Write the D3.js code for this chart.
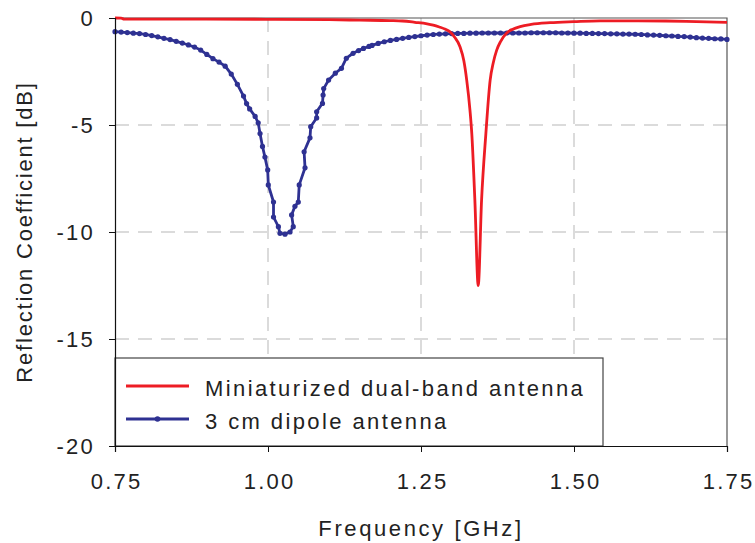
<!DOCTYPE html>
<html>
<head>
<meta charset="utf-8">
<script src="https://cdn.jsdelivr.net/npm/d3@7"></script>
<style>
  body { margin: 0; background: #fff; }
  svg text { font-family: "Liberation Sans", Arial, sans-serif; fill: #222; }
</style>
</head>
<body>
<svg id="chart"></svg>
<script>
// tick values
const xTicks = [0.75, 1.00, 1.25, 1.50, 1.75];
const yTicks = [0, -5, -10, -15, -20];

// series names
const seriesNames = ["Miniaturized dual-band antenna", "3 cm dipole antenna"];

// miniaturized dual-band antenna (red)
const redFreq = [0.75, 0.76, 0.765, 0.80, 0.90, 1.00, 1.10, 1.15, 1.20, 1.22, 1.24, 1.26, 1.27, 1.28, 1.29,
  1.297, 1.305, 1.3137, 1.32, 1.3247, 1.33, 1.333, 1.338, 1.3435, 1.349, 1.356, 1.363, 1.368, 1.3737,
  1.38, 1.39, 1.40, 1.412, 1.43, 1.461, 1.50, 1.5425, 1.60, 1.65, 1.70, 1.75];
const redDb = [0.0, -0.01, -0.05, -0.05, -0.05, -0.06, -0.08, -0.10, -0.12, -0.14, -0.20, -0.27, -0.33, -0.42, -0.53,
  -0.64, -0.90, -1.34, -2.0, -2.9, -4.3, -5.4, -8.5, -12.5, -8.5, -5.4, -2.9, -2.1, -1.5,
  -1.1, -0.70, -0.52, -0.40, -0.30, -0.22, -0.17, -0.13, -0.13, -0.14, -0.17, -0.20];

// 3 cm dipole antenna (blue)
const blueFreq = [0.75, 0.76, 0.77, 0.78, 0.79, 0.80, 0.81, 0.82, 0.83, 0.84, 0.85, 0.86, 0.87, 0.88, 0.89,
  0.90, 0.91, 0.92, 0.93, 0.94, 0.95, 0.96, 0.965, 0.97, 0.979, 0.984, 0.987, 0.991, 0.995, 0.9995,
  1.0005, 1.009, 1.009, 1.017, 1.0196, 1.0278, 1.036, 1.0413, 1.0386, 1.044, 1.0495, 1.051, 1.0605, 1.059,
  1.0686, 1.0698, 1.0795, 1.0795, 1.089, 1.090, 1.091, 1.099, 1.11, 1.12, 1.128, 1.139, 1.148, 1.156,
  1.165, 1.17, 1.18, 1.19, 1.20, 1.21, 1.22, 1.23, 1.24, 1.25, 1.26, 1.27, 1.28, 1.29, 1.30,
  1.31, 1.32, 1.33, 1.34, 1.35, 1.36, 1.37, 1.38, 1.39, 1.40, 1.41, 1.42, 1.43, 1.44, 1.45,
  1.46, 1.47, 1.48, 1.49, 1.50, 1.51, 1.52, 1.53, 1.54, 1.55, 1.56, 1.57, 1.58, 1.59, 1.60,
  1.61, 1.62, 1.63, 1.64, 1.65, 1.66, 1.67, 1.68, 1.69, 1.70, 1.71, 1.72, 1.73, 1.74, 1.75];
const blueDb = [-0.64, -0.66, -0.68, -0.71, -0.73, -0.77, -0.82, -0.88, -0.95, -1.01, -1.09, -1.17, -1.26, -1.36, -1.50,
  -1.70, -1.90, -2.06, -2.25, -2.62, -3.10, -3.65, -4.0, -4.25, -4.6, -4.9, -5.4, -6.0, -6.5, -7.1,
  -7.8, -8.6, -9.3, -9.75, -10.06, -10.1, -10.0, -9.75, -9.2, -8.8, -8.6, -7.8, -7.0, -6.25,
  -5.6, -5.08, -4.67, -4.38, -3.99, -3.6, -3.3, -2.9, -2.58, -2.35, -1.88, -1.65, -1.52, -1.42,
  -1.33, -1.28, -1.19, -1.11, -1.05, -1.00, -0.95, -0.91, -0.87, -0.83, -0.80, -0.77, -0.75, -0.74, -0.73,
  -0.72, -0.72, -0.71, -0.71, -0.70, -0.70, -0.70, -0.70, -0.70, -0.70, -0.70, -0.70, -0.69, -0.69, -0.69,
  -0.69, -0.69, -0.70, -0.70, -0.71, -0.71, -0.72, -0.72, -0.73, -0.73, -0.74, -0.74, -0.75, -0.75, -0.76,
  -0.77, -0.79, -0.80, -0.81, -0.83, -0.84, -0.86, -0.87, -0.89, -0.92, -0.94, -0.95, -0.97, -0.98, -1.00];

const redColor = "#ed1c24";
const blueColor = "#2e3192";
const fontSize = 22;
const spacing = 2.2;

const margin = { top: 18, right: 28, bottom: 97, left: 115 },
  width = 755 - margin.left - margin.right,
  height = 543 - margin.top - margin.bottom;

const svg = d3.select("#chart")
  .attr("width", 755)
  .attr("height", 543);

const g = svg.append("g")
  .attr("transform", `translate(${margin.left}, ${margin.top})`);

const x = d3.scaleLinear().domain([0.75, 1.75]).range([0, width]);
const y = d3.scaleLinear().domain([-20, 0]).range([height, 0]);

// grids
g.append("g")
  .selectAll("line")
  .data(xTicks.slice(1, -1))
  .join("line")
  .attr("x1", d => x(d)).attr("x2", d => x(d))
  .attr("y1", 0).attr("y2", height)
  .attr("stroke", "#cfcfcf")
  .attr("stroke-width", 1.5)
  .attr("stroke-dasharray", "14,9");

g.append("g")
  .selectAll("line")
  .data(yTicks.slice(1, -1))
  .join("line")
  .attr("x1", 0).attr("x2", width)
  .attr("y1", d => y(d)).attr("y2", d => y(d))
  .attr("stroke", "#cfcfcf")
  .attr("stroke-width", 1.5)
  .attr("stroke-dasharray", "14,9");

// frame top and right
g.append("path")
  .attr("d", `M0,0H${width}V${height}`)
  .attr("fill", "none")
  .attr("stroke", "#555")
  .attr("stroke-width", 1.2);

// lines
const redData = redFreq.map((f, i) => ({ x: f, y: redDb[i] }));
const blueData = blueFreq.map((f, i) => ({ x: f, y: blueDb[i] }));

const line = d3.line().x(d => x(d.x)).y(d => y(d.y));

g.append("path")
  .datum(blueData)
  .attr("fill", "none")
  .attr("stroke", blueColor)
  .attr("stroke-width", 2.8)
  .attr("d", line);

g.selectAll(".bdot")
  .data(blueData)
  .join("circle")
  .attr("class", "bdot")
  .attr("cx", d => x(d.x))
  .attr("cy", d => y(d.y))
  .attr("r", 2.6)
  .attr("fill", blueColor);

g.append("path")
  .datum(redData)
  .attr("fill", "none")
  .attr("stroke", redColor)
  .attr("stroke-width", 2.8)
  .attr("d", line.curve(d3.curveMonotoneX));

// legend
const legend = g.append("g");
legend.append("rect")
  .attr("x", 0).attr("y", 340)
  .attr("width", 488).attr("height", height - 340)
  .attr("fill", "#fff")
  .attr("stroke", "#444")
  .attr("stroke-width", 1.2);

[0, 1].forEach(i => {
  const ly = 368 + i * 33;
  const c = i === 0 ? redColor : blueColor;
  legend.append("line")
    .attr("x1", 11).attr("x2", 74)
    .attr("y1", ly).attr("y2", ly)
    .attr("stroke", c).attr("stroke-width", 2.8);
  if (i === 1) {
    legend.append("circle").attr("cx", 42.5).attr("cy", ly).attr("r", 2.8).attr("fill", c);
  }
  legend.append("text")
    .attr("x", 90).attr("y", ly + 10)
    .attr("font-size", fontSize)
    .attr("letter-spacing", spacing + 0.2)
    .text(seriesNames[i]);
});

// axes
const xAxis = g.append("g")
  .attr("transform", `translate(0, ${height})`)
  .call(d3.axisBottom(x).tickValues(xTicks).tickFormat(d3.format(".2f")).tickSize(6).tickPadding(21));

const yAxis = g.append("g")
  .call(d3.axisLeft(y).tickValues(yTicks).tickFormat(d => d === 0 ? "0" : d3.format("d")(d).replace("\u2212", "-")).tickSize(6).tickPadding(14));

[xAxis, yAxis].forEach(a => {
  a.select(".domain").attr("stroke", "#111").attr("stroke-width", 1.2);
  a.selectAll(".tick line").attr("stroke", "#111");
  a.selectAll("text")
    .attr("font-size", fontSize)
    .attr("letter-spacing", spacing)
    .attr("fill", "#222")
    .style("font-family", '"Liberation Sans", Arial, sans-serif');
});
xAxis.selectAll("text").attr("dx", spacing / 2);

// axis titles
svg.append("text")
  .attr("x", margin.left + width / 2)
  .attr("y", 536)
  .attr("text-anchor", "middle")
  .attr("font-size", fontSize)
  .attr("letter-spacing", spacing + 0.4)
  .text("Frequency [GHz]");

svg.append("text")
  .attr("transform", `translate(32, ${margin.top + height / 2}) rotate(-90)`)
  .attr("text-anchor", "middle")
  .attr("font-size", fontSize)
  .attr("letter-spacing", spacing - 0.4)
  .text("Reflection Coefficient [dB]");
</script>
</body>
</html>
